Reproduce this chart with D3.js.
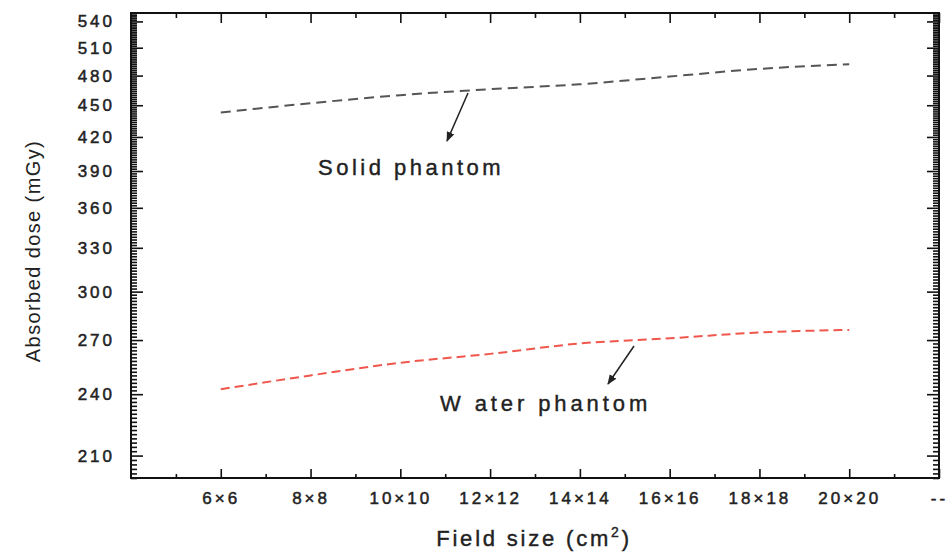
<!DOCTYPE html>
<html>
<head>
<meta charset="utf-8">
<script src="https://d3js.org/d3.v7.min.js"></script>
<style>
  body { margin: 0; background: #fff; }
  svg text { font-family: "Liberation Sans", Arial, sans-serif; fill: #222; }
  .tick text { font-size: 17px; letter-spacing: 3px; stroke: #222; stroke-width: 0.5px; }
  .label { stroke: #222; stroke-width: 0.4px; }
  .axis path { display: none; }
  .axis line { stroke: #111; stroke-width: 1.6; }
</style>
</head>
<body>
<div id="chart"></div>
<script>
// field size (side length, cm) and measured dose
const fieldSize = [6, 8, 10, 12, 14, 16, 18, 20];
const solidDose = [443, 452, 460, 466, 471, 479, 487, 492];
const waterDose = [242.6, 250, 257, 262, 268, 271, 274.5, 276];

const xTicks = [6, 8, 10, 12, 14, 16, 18, 20, 22];
const xTickLabels = ["6×6", "8×8", "10×10", "12×12", "14×14", "16×16", "18×18", "20×20", "--"];
const yTicks = [210, 240, 270, 300, 330, 360, 390, 420, 450, 480, 510, 540];

const width = 948, height = 552;
const margin = { left: 131, right: 9, top: 13, bottom: 74 };

const svg = d3
  .select("#chart")
  .append("svg")
  .attr("width", width)
  .attr("height", height);

const x = d3.scaleLinear().domain([4, 22]).range([margin.left, width - margin.right]);
const y = d3.scaleLog().domain([200, 550]).range([height - margin.bottom, margin.top]);

const x0 = x.range()[0], x1 = x.range()[1];
const y0 = y.range()[0], y1 = y.range()[1];

// minor ticks
const xMinor = d3.range(5, 22, 2);
const yMinor = d3.range(200, 551, 2).filter((v) => yTicks.indexOf(v) < 0);

function minorAxis(axis, vals, size) {
  return axis.tickValues(vals).tickSize(size).tickFormat("");
}

svg.append("g").attr("class", "axis").attr("transform", `translate(0,${y0})`)
  .call(minorAxis(d3.axisBottom(x), xMinor, -4));
svg.append("g").attr("class", "axis").attr("transform", `translate(0,${y1})`)
  .call(minorAxis(d3.axisTop(x), xMinor, -5));
svg.append("g").attr("class", "axis").attr("transform", `translate(${x0},0)`)
  .call(minorAxis(d3.axisLeft(y), yMinor, -6));
svg.append("g").attr("class", "axis").attr("transform", `translate(${x1},0)`)
  .call(minorAxis(d3.axisRight(y), yMinor, -6));

// major ticks
svg.append("g").attr("class", "axis").attr("transform", `translate(0,${y0})`)
  .call(
    d3.axisBottom(x).tickValues(xTicks).tickSize(-9).tickPadding(14)
      .tickFormat((d, i) => xTickLabels[i])
  );
svg.append("g").attr("class", "axis").attr("transform", `translate(0,${y1})`)
  .call(d3.axisTop(x).tickValues(xTicks).tickSize(-10).tickFormat(""));
svg.append("g").attr("class", "axis").attr("transform", `translate(${x0},0)`)
  .call(d3.axisLeft(y).tickValues(yTicks).tickSize(-12).tickPadding(16).tickFormat(d3.format("d")));
svg.append("g").attr("class", "axis").attr("transform", `translate(${x1},0)`)
  .call(d3.axisRight(y).tickValues(yTicks).tickSize(-12).tickFormat(""));

// frame
svg.append("rect")
  .attr("x", x0).attr("y", y1)
  .attr("width", x1 - x0).attr("height", y0 - y1)
  .attr("fill", "none").attr("stroke", "#111").attr("stroke-width", 2);

// lines
const line = d3.line()
  .x((d) => x(d[0]))
  .y((d) => y(d[1]))
  .curve(d3.curveMonotoneX);

svg.append("path")
  .datum(fieldSize.map((f, i) => [f, solidDose[i]]))
  .attr("d", line)
  .attr("fill", "none")
  .attr("stroke", "#555")
  .attr("stroke-width", 2)
  .attr("stroke-dasharray", "10,6");

svg.append("path")
  .datum(fieldSize.map((f, i) => [f, waterDose[i]]))
  .attr("d", line)
  .attr("fill", "none")
  .attr("stroke", "#f0574c")
  .attr("stroke-width", 2)
  .attr("stroke-dasharray", "9,5");

// annotations
svg.append("defs").append("marker")
  .attr("id", "arrow")
  .attr("viewBox", [0, 0, 10, 10])
  .attr("refX", 9).attr("refY", 5)
  .attr("markerWidth", 10).attr("markerHeight", 10)
  .attr("markerUnits", "userSpaceOnUse")
  .attr("orient", "auto")
  .append("path")
  .attr("d", "M0,1 L10,5 L0,9 z")
  .attr("fill", "#222");

function arrow(xa, ya, xb, yb) {
  svg.append("line")
    .attr("x1", xa).attr("y1", ya).attr("x2", xb).attr("y2", yb)
    .attr("stroke", "#222").attr("stroke-width", 1.5)
    .attr("marker-end", "url(#arrow)");
}
arrow(468, 93, 447, 141);
arrow(634, 346, 608, 384);

svg.append("text")
  .attr("class", "label")
  .attr("x", 318).attr("y", 175)
  .style("font-size", "22px").style("letter-spacing", "3.5px")
  .text("Solid phantom");

svg.append("text")
  .attr("class", "label")
  .attr("x", 440).attr("y", 411)
  .style("font-size", "22px").style("letter-spacing", "3.9px")
  .text("W ater phantom");

// axis titles
svg.append("text")
  .attr("class", "label")
  .attr("x", 534).attr("y", 546)
  .attr("text-anchor", "middle")
  .style("font-size", "22px").style("letter-spacing", "2.8px")
  .text("Field size (cm")
  .append("tspan").attr("dy", -9).style("font-size", "14px").text("2")
  .select(function () { return this.parentNode; })
  .append("tspan").attr("dy", 9).text(")");

svg.append("text")
  .attr("transform", "translate(40,251) rotate(-90)")
  .attr("text-anchor", "middle")
  .style("font-size", "20px").style("letter-spacing", "1.4px")
  .text("Absorbed dose (mGy)");
</script>
</body>
</html>
